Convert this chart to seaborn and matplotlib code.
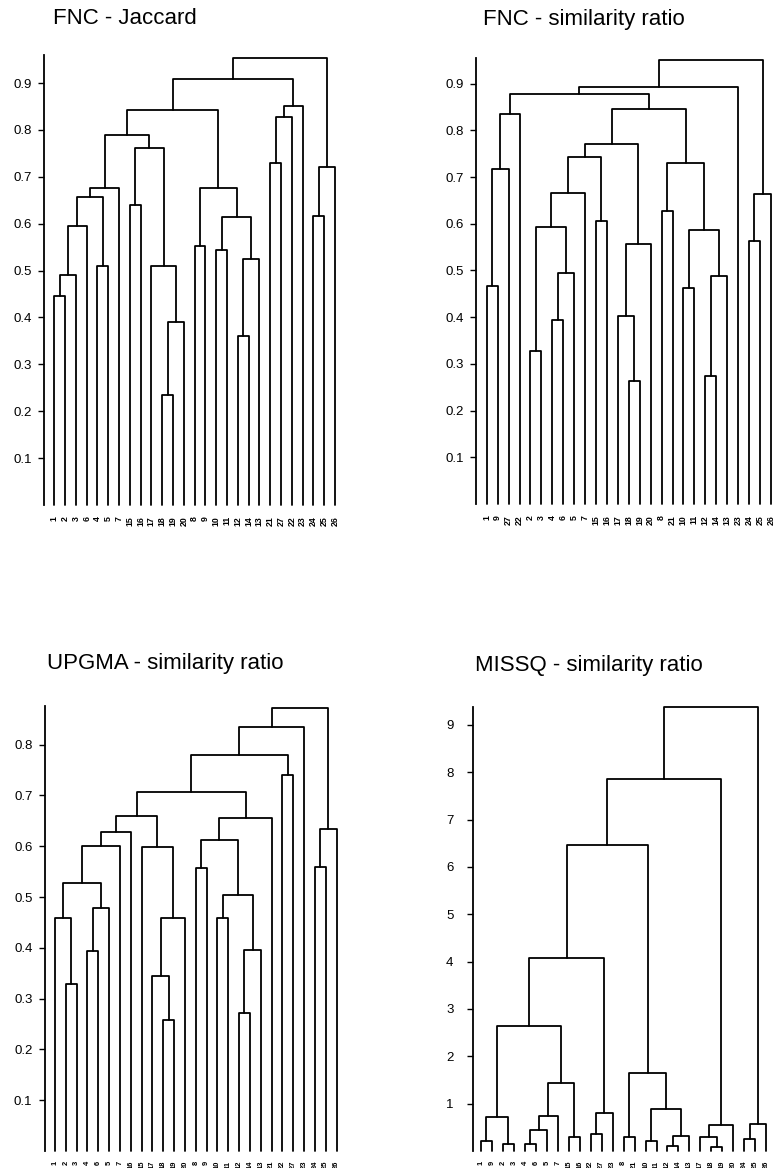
import pandas as pd
import matplotlib
matplotlib.use('Agg')
import matplotlib.pyplot as plt
import seaborn as sns

# Leaf orders (left to right) for each dendrogram
order_jac = [1, 2, 3, 6, 4, 5, 7, 15, 16, 17, 18, 19, 20, 8, 9, 10, 11, 12, 14, 13,
             21, 27, 22, 23, 24, 25, 26]
order_fnc = [1, 9, 27, 22, 2, 3, 4, 6, 5, 7, 15, 16, 17, 18, 19, 20, 8, 21, 10, 11,
             12, 14, 13, 23, 24, 25, 26]
order_upg = [1, 2, 3, 4, 6, 5, 7, 16, 15, 17, 18, 19, 20, 8, 9, 10, 11, 12, 14, 13,
             21, 22, 27, 23, 24, 25, 26]
order_mis = [1, 9, 2, 3, 4, 6, 5, 7, 15, 16, 22, 27, 23, 8, 21, 10, 11, 12, 14, 13,
             17, 18, 19, 20, 24, 25, 26]

# Merges: (left, right, height); ints are leaves, "cK" is the K-th merge
merges_jac = [(1, 2, 0.445), ("c0", 3, 0.49), ("c1", 6, 0.595), (4, 5, 0.51),
              ("c2", "c3", 0.657), ("c4", 7, 0.677), (15, 16, 0.64), (18, 19, 0.235),
              ("c7", 20, 0.39), (17, "c8", 0.51), ("c6", "c9", 0.762), ("c5", "c10", 0.79),
              (8, 9, 0.552), (10, 11, 0.543), (12, 14, 0.36), ("c14", 13, 0.525),
              ("c13", "c15", 0.615), ("c12", "c16", 0.677), ("c11", "c17", 0.843),
              (21, 27, 0.73), ("c19", 22, 0.828), ("c20", 23, 0.851), ("c18", "c21", 0.908),
              (24, 25, 0.617), ("c23", 26, 0.722), ("c22", "c24", 0.953)]
merges_fnc = [(1, 9, 0.467), ("c0", 27, 0.718), ("c1", 22, 0.835), (2, 3, 0.327),
              (4, 6, 0.393), ("c4", 5, 0.494), ("c3", "c5", 0.593), ("c6", 7, 0.665),
              (15, 16, 0.606), ("c7", "c8", 0.743), (18, 19, 0.263), (17, "c10", 0.403),
              ("c11", 20, 0.557), ("c9", "c12", 0.770), (8, 21, 0.628), (10, 11, 0.462),
              (12, 14, 0.274), ("c16", 13, 0.489), ("c15", "c17", 0.586),
              ("c14", "c18", 0.730), ("c13", "c19", 0.845), ("c2", "c20", 0.878),
              ("c21", 23, 0.893), (24, 25, 0.563), ("c23", 26, 0.663), ("c22", "c24", 0.950)]
merges_upg = [(2, 3, 0.328), (1, "c0", 0.458), (4, 6, 0.393), ("c2", 5, 0.478),
              ("c1", "c3", 0.527), ("c4", 7, 0.600), ("c5", 16, 0.627), (18, 19, 0.258),
              (17, "c7", 0.345), ("c8", 20, 0.458), (15, "c9", 0.598), ("c6", "c10", 0.660),
              (8, 9, 0.558), (10, 11, 0.458), (12, 14, 0.272), ("c14", 13, 0.395),
              ("c13", "c15", 0.503), ("c12", "c16", 0.612), ("c17", 21, 0.655),
              ("c11", "c18", 0.706), (22, 27, 0.740), ("c19", "c20", 0.780),
              ("c21", 23, 0.835), (24, 25, 0.560), ("c23", 26, 0.633), ("c22", "c24", 0.873)]
merges_mis = [(1, 9, 0.22), (2, 3, 0.15), ("c0", "c1", 0.72), (4, 6, 0.15),
              ("c3", 5, 0.44), ("c4", 7, 0.73), (15, 16, 0.29), ("c5", "c6", 1.43),
              ("c2", "c7", 2.64), (22, 27, 0.35), ("c9", 23, 0.81), ("c8", "c10", 4.07),
              (8, 21, 0.29), (10, 11, 0.21), (12, 14, 0.10), ("c14", 13, 0.32),
              ("c13", "c15", 0.89), ("c12", "c16", 1.64), ("c11", "c17", 6.46),
              (18, 19, 0.08), (17, "c19", 0.29), ("c20", 20, 0.54), ("c18", "c21", 7.85),
              (24, 25, 0.25), ("c23", 26, 0.57), ("c22", "c24", 9.37)]

titles = ["FNC - Jaccard", "FNC - similarity ratio",
          "UPGMA - similarity ratio", "MISSQ - similarity ratio"]
ticks_sim = [0.1, 0.2, 0.3, 0.4, 0.5, 0.6, 0.7, 0.8, 0.9]
ticks_upg = [0.1, 0.2, 0.3, 0.4, 0.5, 0.6, 0.7, 0.8]
ticks_mis = [1, 2, 3, 4, 5, 6, 7, 8, 9]


def segments(order, merges):
    pos = {leaf: (i, 0.0) for i, leaf in enumerate(order)}
    rows = []
    for k, (a, b, h) in enumerate(merges):
        xa, ya = pos[a]
        xb, yb = pos[b]
        for x, y in [(xa, ya), (xa, h), (xb, h), (xb, yb)]:
            rows.append({"seg": k, "x": x, "y": y})
        pos["c%d" % k] = ((xa + xb) / 2, h)
    return pd.DataFrame(rows)


sns.set_theme(style="white")
plt.rcParams['font.family'] = ['Liberation Sans', 'DejaVu Sans']
plt.rcParams['text.color'] = 'black'
plt.rcParams['xtick.color'] = 'black'
plt.rcParams['ytick.color'] = 'black'

W, H = 773, 1168
fig = plt.figure(figsize=(W / 100, H / 100), dpi=100)

# panel layout in pixels: left spine x, top, bottom, leaf spacing, x offset, ymax,
# tick pad, leaf label size, leaf label pad
panels = [
    (order_jac, merges_jac, ticks_sim, 44, 55, 505, 10.80, 0.95, 0.960, 5, 6.3, 2),
    (order_fnc, merges_fnc, ticks_sim, 476, 58, 504, 10.93, 0.98, 0.955, 5, 6.3, 2),
    (order_upg, merges_upg, ticks_upg, 45, 706, 1151, 10.83, 0.92, 0.876, 5, 5.4, 1),
    (order_mis, merges_mis, ticks_mis, 473, 707, 1151, 10.97, 0.73, 9.38, 10, 5.4, 1),
]
title_pos = [(53, 18), (483, 20), (47, 663), (475, 665)]

for (order, merges, ticks, x0, top, bot, sp, off, ymax, pad, lsize, lpad), title, (tx, ty) in zip(
        panels, titles, title_pos):
    width = (26.5 + off) * sp
    ax = fig.add_axes([x0 / W, 1 - bot / H, width / W, (bot - top) / H])
    df = segments(order, merges)
    sns.lineplot(data=df, x="x", y="y", units="seg", estimator=None, sort=False,
                 color="black", linewidth=1.3, ax=ax, legend=False)
    ax.set_xlim(-off, 26.5)
    ax.set_ylim(0, ymax)
    ax.set_xlabel("")
    ax.set_ylabel("")
    for s in ["top", "right", "bottom"]:
        ax.spines[s].set_visible(False)
    ax.spines["left"].set_color("black")
    ax.spines["left"].set_linewidth(1.3)
    ax.set_yticks(ticks)
    ax.set_yticklabels([("%g" % t) for t in ticks], fontsize=9.5, color="black")
    ax.tick_params(axis="y", left=True, length=4, width=1, color="black", pad=pad)
    ax.set_xticks(range(len(order)))
    ax.set_xticklabels([str(v) for v in order], rotation=90, fontsize=lsize,
                       fontweight="bold", va="top", ha="center", color="black")
    ax.tick_params(axis="x", bottom=False, pad=lpad)
    for line in ax.lines:
        line.set_clip_on(False)
    fig.text(tx / W, 1 - ty / H, title, fontsize=16, ha="left", va="center",
             color="black")

fig.savefig("out.png", dpi=100)
